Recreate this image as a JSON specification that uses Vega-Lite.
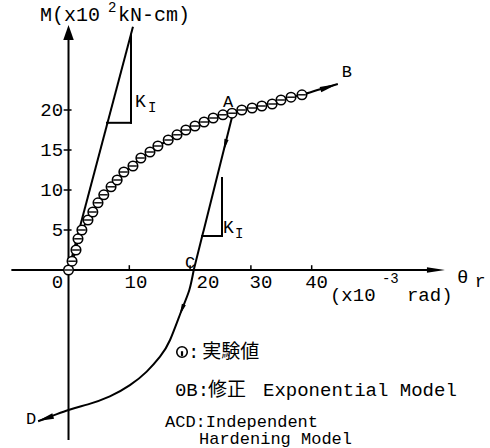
{
  "$schema": "https://vega.github.io/schema/vega-lite/v6.json",
  "width": 490,
  "height": 448,
  "padding": 0,
  "autosize": "none",
  "background": "white",
  "config": {"view": {"stroke": null}},
  "datasets": {
    "axes": [
      {"theta": -9.4, "moment": 0, "theta2": 59.5, "moment2": 0},
      {"theta": 0, "moment": -21.25, "theta2": 0, "moment2": 28.8}
    ],
    "ticks": [
      {"theta": 10, "moment": 0, "theta2": 10, "moment2": 0.6},
      {"theta": 20, "moment": 0, "theta2": 20, "moment2": 0.6},
      {"theta": 30, "moment": 0, "theta2": 30, "moment2": 0.6},
      {"theta": 40, "moment": 0, "theta2": 40, "moment2": 0.6},
      {"theta": -0.8, "moment": 5, "theta2": 0.5, "moment2": 5},
      {"theta": -0.8, "moment": 10, "theta2": 0.5, "moment2": 10},
      {"theta": -0.8, "moment": 15, "theta2": 0.5, "moment2": 15},
      {"theta": -0.8, "moment": 20, "theta2": 0.5, "moment2": 20}
    ],
    "straights": [
      {"theta": 0, "moment": 0, "theta2": 10.6, "moment2": 30.4},
      {"theta": 27.05, "moment": 19.6, "theta2": 20.6, "moment2": 0}
    ],
    "triangles": [
      {"theta": 6.33, "moment": 18.4, "theta2": 10.28, "moment2": 18.4},
      {"theta": 10.28, "moment": 18.4, "theta2": 10.28, "moment2": 29.4},
      {"theta": 22.0, "moment": 4.25, "theta2": 25.25, "moment2": 4.25},
      {"theta": 25.25, "moment": 4.25, "theta2": 25.25, "moment2": 11.5}
    ],
    "model": [
      {"theta": 0, "moment": 0}, {"theta": 0.6, "moment": 1.1}, {"theta": 1.2, "moment": 2.5},
      {"theta": 1.6, "moment": 3.9}, {"theta": 2.2, "moment": 5.0}, {"theta": 3.2, "moment": 6.3},
      {"theta": 4.0, "moment": 7.3}, {"theta": 4.9, "moment": 8.4}, {"theta": 5.8, "moment": 9.4},
      {"theta": 7.0, "moment": 10.4}, {"theta": 8.0, "moment": 11.3}, {"theta": 9.1, "moment": 12.2},
      {"theta": 10.6, "moment": 13.1}, {"theta": 11.9, "moment": 14.0}, {"theta": 13.4, "moment": 14.8},
      {"theta": 14.7, "moment": 15.5}, {"theta": 16.4, "moment": 16.2}, {"theta": 17.9, "moment": 16.9},
      {"theta": 19.3, "moment": 17.5}, {"theta": 20.8, "moment": 18.0}, {"theta": 22.3, "moment": 18.5},
      {"theta": 23.8, "moment": 19.0}, {"theta": 25.4, "moment": 19.4}, {"theta": 26.9, "moment": 19.7},
      {"theta": 28.5, "moment": 20.0}, {"theta": 30.2, "moment": 20.3}, {"theta": 31.8, "moment": 20.6},
      {"theta": 33.5, "moment": 20.9}, {"theta": 35.0, "moment": 21.2}, {"theta": 36.6, "moment": 21.6},
      {"theta": 38.4, "moment": 21.9}, {"theta": 41.4, "moment": 22.6}, {"theta": 44.3, "moment": 23.25}
    ],
    "experiment": [
      {"theta": 0, "moment": 0}, {"theta": 0.58, "moment": 1.1}, {"theta": 1.23, "moment": 2.5},
      {"theta": 1.56, "moment": 3.9}, {"theta": 2.2, "moment": 5.0}, {"theta": 3.2, "moment": 6.25},
      {"theta": 4.0, "moment": 7.25}, {"theta": 4.85, "moment": 8.4}, {"theta": 5.8, "moment": 9.4},
      {"theta": 7.0, "moment": 10.4}, {"theta": 8.0, "moment": 11.25}, {"theta": 9.1, "moment": 12.25},
      {"theta": 10.6, "moment": 13.0}, {"theta": 11.9, "moment": 14.0}, {"theta": 13.4, "moment": 14.75},
      {"theta": 14.7, "moment": 15.5}, {"theta": 16.4, "moment": 16.25}, {"theta": 17.85, "moment": 16.9},
      {"theta": 19.3, "moment": 17.5}, {"theta": 20.8, "moment": 18.0}, {"theta": 22.3, "moment": 18.5},
      {"theta": 23.8, "moment": 19.0}, {"theta": 25.4, "moment": 19.4}, {"theta": 26.9, "moment": 19.6},
      {"theta": 28.5, "moment": 20.0}, {"theta": 30.2, "moment": 20.25}, {"theta": 31.8, "moment": 20.5},
      {"theta": 33.5, "moment": 20.75}, {"theta": 34.95, "moment": 21.25}, {"theta": 36.6, "moment": 21.6},
      {"theta": 38.4, "moment": 21.9}
    ],
    "unloading": [
      {"theta": 20.6, "moment": 0}, {"theta": 19.87, "moment": -2.5}, {"theta": 18.62, "moment": -5.0},
      {"theta": 16.7, "moment": -8.75}, {"theta": 15.05, "moment": -10.84},
      {"theta": 12.86, "moment": -12.7}, {"theta": 10.1, "moment": -14.4}, {"theta": 6.8, "moment": -15.8},
      {"theta": 3.2, "moment": -16.8}, {"theta": 0, "moment": -17.5}, {"theta": -5.0, "moment": -18.9}
    ],
    "titleText": [
      {"theta": -4.69, "moment": 31.9, "label": "M(x10"},
      {"theta": 8.14, "moment": 31.9, "label": "kN-cm)"}
    ],
    "monoLeft": [
      {"theta": 43.0, "moment": -3.1, "label": "(x10"},
      {"theta": 55.67, "moment": -3.1, "label": "rad)"},
      {"theta": 63.9, "moment": -0.9, "label": "θ"},
      {"theta": 17.5, "moment": -15, "label": "0B:"},
      {"theta": 31.99, "moment": -15, "label": "Exponential Model"},
      {"theta": 19.65, "moment": -10.2, "label": ":"}
    ],
    "smallText": [
      {"theta": 6.5, "moment": 32.75, "label": "2"},
      {"theta": 51.56, "moment": -1.1, "label": "-3"},
      {"theta": 13.08, "moment": 20.25, "label": "I"},
      {"theta": 27.4, "moment": 4.5, "label": "I"}
    ],
    "yLabels": [
      {"theta": -0.9, "moment": 5, "label": "5"},
      {"theta": -0.9, "moment": 10, "label": "10"},
      {"theta": -0.9, "moment": 15, "label": "15"},
      {"theta": -0.9, "moment": 20, "label": "20"},
      {"theta": -0.9, "moment": -1.5, "label": "0"}
    ],
    "xLabels": [
      {"theta": 11.1, "moment": -1.5, "label": "10"},
      {"theta": 22.94, "moment": -1.5, "label": "20"},
      {"theta": 31.66, "moment": -1.5, "label": "30"},
      {"theta": 40.8, "moment": -1.5, "label": "40"}
    ],
    "pointLabels": [
      {"theta": 26.23, "moment": 21, "label": "A"},
      {"theta": 45.8, "moment": 24.75, "label": "B"},
      {"theta": 19.98, "moment": 0.875, "label": "C"},
      {"theta": -6.17, "moment": -18.6, "label": "D"}
    ],
    "kLabels": [
      {"theta": 10.94, "moment": 21, "label": "K"},
      {"theta": 25.4, "moment": 5.25, "label": "K"},
      {"theta": 66.84, "moment": -1.5, "label": "r"}
    ],
    "cjkText": [
      {"theta": 22.0, "moment": -10.2, "label": "実験値"},
      {"theta": 22.94, "moment": -15, "label": "修正"}
    ],
    "legendLower": [
      {"theta": 15.87, "moment": -19.0, "label": "ACD:Independent"},
      {"theta": 21.46, "moment": -21.1, "label": "Hardening Model"}
    ],
    "legendSymbol": [{"theta": 18.67, "moment": -10.25}],
    "arrowX": [{"theta": 60.44, "moment": 0}],
    "arrowY": [{"theta": 0, "moment": 29.7}],
    "arrowB": [{"theta": 42.85, "moment": 22.9}],
    "arrowD": [{"theta": -3.77, "moment": -18.56}],
    "arrowAC": [{"theta": 25.75, "moment": 15.6}],
    "arrowCD": [{"theta": 18.62, "moment": -5.0}]
  },
  "encoding": {
    "x": {"field": "theta", "type": "quantitative", "scale": {"domain": [-11.27, 69.33], "nice": false, "zero": false}, "axis": null},
    "y": {"field": "moment", "type": "quantitative", "scale": {"domain": [-22.25, 33.75], "nice": false, "zero": false}, "axis": null}
  },
  "layer": [
    {"data": {"name": "axes"}, "mark": {"type": "rule", "color": "black", "strokeWidth": 2},
     "encoding": {"x2": {"field": "theta2"}, "y2": {"field": "moment2"}}},
    {"data": {"name": "ticks"}, "mark": {"type": "rule", "color": "black", "strokeWidth": 1.5},
     "encoding": {"x2": {"field": "theta2"}, "y2": {"field": "moment2"}}},
    {"data": {"name": "straights"}, "mark": {"type": "rule", "color": "black", "strokeWidth": 2},
     "encoding": {"x2": {"field": "theta2"}, "y2": {"field": "moment2"}}},
    {"data": {"name": "triangles"}, "mark": {"type": "rule", "color": "black", "strokeWidth": 2, "strokeCap": "square"},
     "encoding": {"x2": {"field": "theta2"}, "y2": {"field": "moment2"}}},
    {"data": {"name": "model"}, "mark": {"type": "line", "color": "black", "strokeWidth": 2, "interpolate": "monotone"}},
    {"data": {"name": "unloading"}, "mark": {"type": "line", "color": "black", "strokeWidth": 2, "interpolate": "natural"}},
    {"data": {"name": "experiment"}, "mark": {"type": "point", "shape": "circle", "filled": true, "fill": "white", "stroke": "black", "strokeWidth": 1.6, "size": 90, "opacity": 1}},
    {"data": {"name": "experiment"}, "mark": {"type": "point", "shape": "stroke", "filled": false, "stroke": "black", "strokeWidth": 1.4, "size": 60, "opacity": 1}},
    {"data": {"name": "legendSymbol"}, "mark": {"type": "point", "shape": "circle", "filled": true, "fill": "white", "stroke": "black", "strokeWidth": 1.6, "size": 110, "opacity": 1}},
    {"data": {"name": "legendSymbol"}, "mark": {"type": "point", "shape": "M0,-0.15L0,0.75", "filled": false, "stroke": "black", "strokeWidth": 2.2, "size": 110, "opacity": 1}},
    {"data": {"name": "arrowX"}, "mark": {"type": "point", "shape": "M1,0L-1,-0.3L-1,0.3Z", "filled": true, "color": "black", "size": 324, "angle": 0, "opacity": 1}},
    {"data": {"name": "arrowY"}, "mark": {"type": "point", "shape": "M1,0L-1,-0.7L-1,0.7Z", "filled": true, "color": "black", "size": 225, "angle": -90, "opacity": 1}},
    {"data": {"name": "arrowB"}, "mark": {"type": "point", "shape": "M1,0L-1,-0.3L-1,0.3Z", "filled": true, "color": "black", "size": 324, "angle": -18, "opacity": 1}},
    {"data": {"name": "arrowD"}, "mark": {"type": "point", "shape": "M1,0L-1,-0.35L-1,0.35Z", "filled": true, "color": "black", "size": 256, "angle": 162, "opacity": 1}},
    {"data": {"name": "arrowAC"}, "mark": {"type": "point", "shape": "M1,0L-1,-0.35L-1,0.35Z", "filled": true, "color": "black", "size": 144, "angle": 104, "opacity": 1}},
    {"data": {"name": "arrowCD"}, "mark": {"type": "point", "shape": "M1,0L-1,-0.35L-1,0.35Z", "filled": true, "color": "black", "size": 144, "angle": 111, "opacity": 1}},
    {"data": {"name": "titleText"}, "mark": {"type": "text", "font": "Liberation Mono", "fontSize": 20, "align": "left", "baseline": "middle", "color": "black"},
     "encoding": {"text": {"field": "label"}}},
    {"data": {"name": "monoLeft"}, "mark": {"type": "text", "font": "Liberation Mono", "fontSize": 19, "align": "left", "baseline": "middle", "color": "black"},
     "encoding": {"text": {"field": "label"}}},
    {"data": {"name": "smallText"}, "mark": {"type": "text", "font": "Liberation Mono", "fontSize": 14, "align": "left", "baseline": "middle", "color": "black"},
     "encoding": {"text": {"field": "label"}}},
    {"data": {"name": "yLabels"}, "mark": {"type": "text", "font": "Liberation Mono", "fontSize": 19, "align": "right", "baseline": "middle", "color": "black"},
     "encoding": {"text": {"field": "label"}}},
    {"data": {"name": "xLabels"}, "mark": {"type": "text", "font": "Liberation Mono", "fontSize": 19, "align": "center", "baseline": "middle", "color": "black"},
     "encoding": {"text": {"field": "label"}}},
    {"data": {"name": "pointLabels"}, "mark": {"type": "text", "font": "Liberation Mono", "fontSize": 17, "align": "center", "baseline": "middle", "color": "black"},
     "encoding": {"text": {"field": "label"}}},
    {"data": {"name": "kLabels"}, "mark": {"type": "text", "font": "Liberation Mono", "fontSize": 18, "align": "left", "baseline": "middle", "color": "black"},
     "encoding": {"text": {"field": "label"}}},
    {"data": {"name": "cjkText"}, "mark": {"type": "text", "font": "Noto Sans CJK JP", "fontSize": 19, "align": "left", "baseline": "middle", "color": "black"},
     "encoding": {"text": {"field": "label"}}},
    {"data": {"name": "legendLower"}, "mark": {"type": "text", "font": "Liberation Mono", "fontSize": 17, "align": "left", "baseline": "middle", "color": "black"},
     "encoding": {"text": {"field": "label"}}}
  ]
}
